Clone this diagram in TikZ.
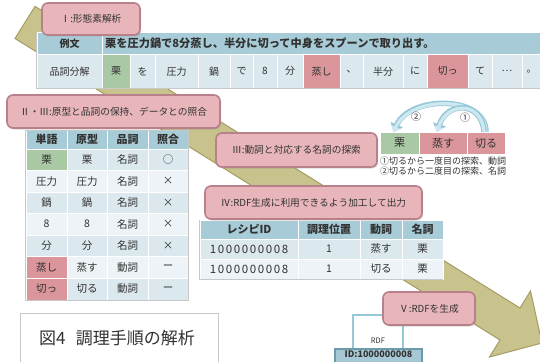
\documentclass[tikz,border=0pt]{standalone}
\usepackage{fontspec}
\setmainfont{Noto Sans CJK JP}
\usetikzlibrary{arrows.meta,shadows}
\definecolor{hdr}{RGB}{168,204,215}
\definecolor{rowA}{RGB}{219,232,238}
\definecolor{rowB}{RGB}{237,243,246}
\definecolor{cgreen}{RGB}{169,201,164}
\definecolor{cpink}{RGB}{218,150,154}
\definecolor{lblfill}{RGB}{232,182,186}
\definecolor{lbldraw}{RGB}{184,128,138}
\definecolor{bandfill}{RGB}{200,194,140}
\definecolor{bandline}{RGB}{165,156,98}
\definecolor{txt}{RGB}{50,50,50}
\definecolor{arrfill}{RGB}{205,232,240}
\definecolor{arrdraw}{RGB}{150,200,215}
\definecolor{tblline}{RGB}{200,200,200}
\definecolor{idfill}{RGB}{166,200,212}
\definecolor{iddraw}{RGB}{109,154,168}
\newcommand{\fsz}[1]{\fontsize{#1}{#1}\selectfont}
\tikzset{
  cellbox/.style={draw=white,line width=1pt,inner sep=0pt,outer sep=0pt,text=txt},
  lblbox/.style={draw=lbldraw,fill=lblfill,line width=1.6pt,rounded corners=6pt,text=txt,
    font=\fsz{9.7},inner sep=0pt,drop shadow={shadow xshift=1.2pt,shadow yshift=-1.5pt,opacity=0.3}},
  tframe/.style={draw=tblline,line width=0.8pt},
  curvarrow/.style={line width=5.5pt,draw=arrdraw,-{Triangle[width=13pt,length=8pt]}},
  curvarrowin/.style={line width=3.2pt,draw=arrfill,-{Triangle[width=9pt,length=5.5pt]}},
}
\newcommand{\tcell}[7]{\node[cellbox,fill=#6,minimum width={(#4-#2)*1pt},minimum height={(#5-#3)*1pt}] (#1) at ({(#2+#4)/2},{(#3+#5)/2}) {#7};}
\newcommand{\lbl}[6]{\node[lblbox,minimum width={(#4-#2)*1pt},minimum height={(#5-#3)*1pt}] (#1) at ({(#2+#4)/2},{(#3+#5)/2}) {#6};}
\newcommand{\lrow}[9]{%
 \tcell{#1a}{26}{#2}{67}{#3}{#5}{#6}
 \tcell{#1b}{67}{#2}{107}{#3}{#4}{#7}
 \tcell{#1c}{107}{#2}{148}{#3}{#4}{#8}
 \tcell{#1d}{148}{#2}{188}{#3}{#4}{#9}}
\newcommand{\rrow}[7]{%
 \tcell{#1a}{200}{#2}{298}{#3}{#4}{#5}
 \tcell{#1b}{298}{#2}{360}{#3}{#4}{#6}
 \tcell{#1c}{360}{#2}{402}{#3}{#4}{#7}}
\newcommand{\digs}[1]{{\fsz{11.5}\addfontfeature{LetterSpace=14}#1}}
\begin{document}
\begin{tikzpicture}[x=1pt,y=-1pt]
\useasboundingbox (0,0) rectangle (540,361);
% big band arrow
\filldraw[fill=bandfill,draw=bandline,line width=1pt,line join=miter]
  (35,6.4) -- (520,308) -- (530.5,291) -- (542,343) -- (489.5,357) -- (500,340) -- (15,38.5) -- cycle;

% ---- top table
\begin{scope}[font=\fsz{10}]
\tcell{t1a}{37}{33}{102}{54.5}{hdr}{\bfseries 例文}
\tcell{t1b}{102}{33}{541}{54.5}{hdr}{}
\node[anchor=west,inner sep=0pt,text=txt,font=\fsz{11.2}\bfseries] (sent) at (105,43.5) {栗を圧力鍋で8分蒸し、半分に切って中身をスプーンで取り出す。};
\tcell{t2a}{37}{54.5}{102}{88}{rowA}{品詞分解}
\tcell{t2b}{102}{54.5}{130}{88}{cgreen}{栗}
\tcell{t2c}{130}{54.5}{155}{88}{rowA}{を}
\tcell{t2d}{155}{54.5}{198}{88}{rowA}{圧力}
\tcell{t2e}{198}{54.5}{230}{88}{rowA}{鍋}
\tcell{t2f}{230}{54.5}{253}{88}{rowA}{で}
\tcell{t2g}{253}{54.5}{277}{88}{rowA}{8}
\tcell{t2h}{277}{54.5}{303}{88}{rowA}{分}
\tcell{t2i}{303}{54.5}{340}{88}{cpink}{蒸し}
\tcell{t2j}{340}{54.5}{363}{88}{rowA}{、}
\tcell{t2k}{363}{54.5}{403}{88}{rowA}{半分}
\tcell{t2l}{403}{54.5}{427}{88}{rowA}{に}
\tcell{t2m}{427}{54.5}{468}{88}{cpink}{切っ}
\tcell{t2n}{468}{54.5}{492}{88}{rowA}{て}
\tcell{t2o}{492}{54.5}{522}{88}{rowA}{…}
\tcell{t2p}{522}{54.5}{541}{88}{rowA}{。}
\end{scope}
\draw[tframe] (36.5,33) -- (36.5,88.5) -- (541,88.5);

% ---- left table
\begin{scope}[font=\fsz{10.5}]
\begin{scope}[font=\fsz{11}\bfseries]
\lrow{Lh}{130}{149}{hdr}{hdr}{単語}{原型}{品詞}{照合}
\end{scope}
\lrow{La}{149}{170.5}{rowA}{cgreen}{栗}{栗}{名詞}{○}
\lrow{Lb}{170.5}{192}{rowB}{rowB}{圧力}{圧力}{名詞}{×}
\lrow{Lc}{192}{213.5}{rowA}{rowA}{鍋}{鍋}{名詞}{×}
\lrow{Ld}{213.5}{235}{rowB}{rowB}{8}{8}{名詞}{×}
\lrow{Le}{235}{256.5}{rowA}{rowA}{分}{分}{名詞}{×}
\lrow{Lf}{256.5}{278}{rowB}{cpink}{蒸し}{蒸す}{動詞}{ー}
\lrow{Lg}{278}{300}{rowA}{cpink}{切っ}{切る}{動詞}{ー}
\end{scope}
\draw[tframe] (25.5,130) rectangle (188.5,300.5);

% ---- small table (III)
\begin{scope}[font=\fsz{11}]
\tcell{kuri}{380}{132}{419}{154}{cgreen}{栗}
\tcell{musu}{419}{132}{467}{154}{cpink}{蒸す}
\tcell{kiru}{467}{132}{505}{154}{cpink}{切る}
\end{scope}
\node[anchor=north west,inner sep=0pt,align=left,text=txt,font=\fsz{9}] (notes) at (380,157)
  {①切るから一度目の探索、動詞\\[0.5pt]②切るから二度目の探索、名詞};
% curved arrows
\draw[curvarrow] (kiru.north) .. controls (486,95) and (410,95) .. ([xshift=-6pt]kuri.north);
\draw[curvarrowin] (kiru.north) .. controls (486,95) and (410,95) .. ([xshift=-6pt]kuri.north);
\draw[curvarrow] ([xshift=-2pt]kiru.north) .. controls (482,101) and (447,101) .. ([xshift=-6pt]musu.north);
\draw[curvarrowin] ([xshift=-2pt]kiru.north) .. controls (482,101) and (447,101) .. ([xshift=-6pt]musu.north);
\node[text=txt,font=\fsz{10},inner sep=0pt] (c2) at (416,117) {②};
\node[text=txt,font=\fsz{10},inner sep=0pt] (c1) at (465,118) {①};

% ---- IV table
\begin{scope}[font=\fsz{10.5}]
\begin{scope}[font=\fsz{11}\bfseries]
\rrow{Rh}{220}{239}{hdr}{レシピID}{調理位置}{動詞}
\tcell{Rhd}{402}{220}{443}{239}{hdr}{名詞}
\end{scope}
\rrow{Ra}{239}{259}{rowA}{\digs{1000000008}}{1}{蒸す}
\tcell{Rad}{402}{239}{443}{259}{rowA}{栗}
\rrow{Rb}{259}{279}{rowB}{\digs{1000000008}}{1}{切る}
\tcell{Rbd}{402}{259}{443}{279}{rowB}{栗}
\end{scope}
\draw[tframe] (199.5,220) -- (199.5,279.5) -- (443,279.5);

% ---- RDF box
\node[draw=arrdraw,fill=white,line width=2pt,minimum width=50pt,minimum height=60pt,inner sep=0pt] (rdf) at (378,345) {};
\node[text=txt,font=\fsz{7.5},inner sep=0pt] (rdft) at (378,341) {RDF};
\node[draw=iddraw,fill=idfill,line width=1.5pt,minimum width=87pt,minimum height=22pt,inner sep=0pt,anchor=north] (idb) at (378.5,348) {};
\node[text=txt,font=\fsz{9}\bfseries,inner sep=0pt] (idt) at (378.5,354.5) {ID:1000000008};

% ---- caption
\node[draw=tblline,fill=white,line width=0.8pt,minimum width=198pt,minimum height=60pt,inner sep=0pt,anchor=north west] (capbox) at (20,313) {};
\node[text=txt,font=\fsz{17},inner sep=0pt] (cap) at (117,338) {図4\hspace{0.6em}調理手順の解析};

% ---- labels
\lbl{L1}{42}{3}{140}{35}{Ⅰ:形態素解析}
\lbl{L2}{7}{95}{220}{128}{Ⅱ・Ⅲ:原型と品詞の保持、データとの照合}
\lbl{L3}{216}{133}{377}{167}{Ⅲ:動詞と対応する名詞の探索}
\lbl{L4}{205}{186}{422}{219}{Ⅳ:RDF生成に利用できるよう加工して出力}
\lbl{L5}{383}{292}{475}{325}{Ⅴ:RDFを生成}
\end{tikzpicture}
\end{document}
